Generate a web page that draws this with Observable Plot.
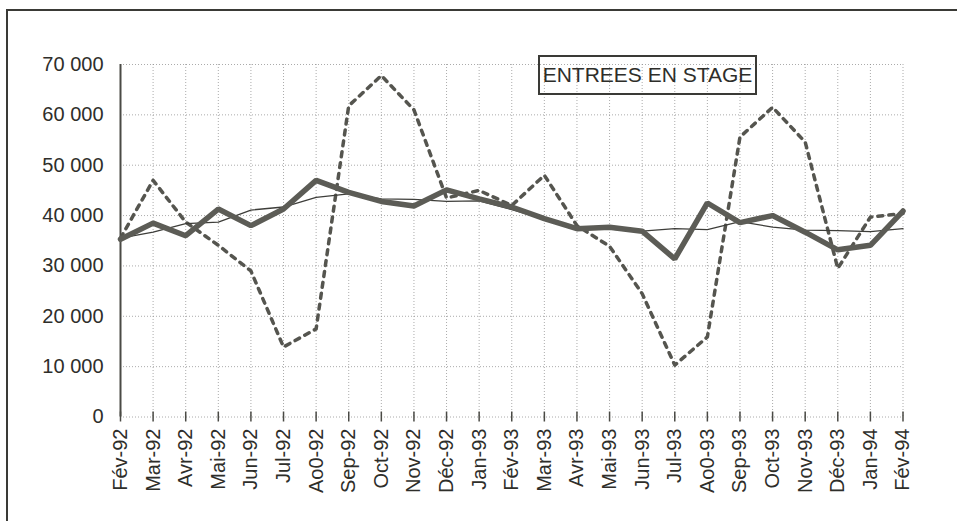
<!DOCTYPE html>
<html>
<head>
<meta charset="utf-8">
<script src="https://cdn.jsdelivr.net/npm/d3@7"></script>
<script src="https://cdn.jsdelivr.net/npm/@observablehq/plot@0.6"></script>
<style>
  html, body { margin: 0; padding: 0; background: #fff; }
  #wrap { position: relative; width: 957px; height: 521px; overflow: hidden; }
  #frame { position: absolute; left: 6px; top: 9px; width: 1000px; height: 600px;
           border-left: 2px solid #3a3a36; border-top: 2px solid #3a3a36; }
  #legend { position: absolute; left: 538px; top: 55px; width: 215px; height: 36px;
            border: 2px solid #3a3a36; font: 21px "Liberation Sans", Arial, sans-serif;
            color: #2e2e2a; display: flex; align-items: center; justify-content: center; box-sizing: content-box; }
  svg { position: absolute; left: 0; top: 0; }
</style>
</head>
<body>
<div id="wrap">
  <div id="frame"></div>
</div>
<script>
const months = ["Fév-92","Mar-92","Avr-92","Mai-92","Jun-92","Jul-92","Ao0-92","Sep-92","Oct-92","Nov-92","Déc-92",
  "Jan-93","Fév-93","Mar-93","Avr-93","Mai-93","Jun-93","Jul-93","Ao0-93","Sep-93","Oct-93","Nov-93","Déc-93",
  "Jan-94","Fév-94"];
const brutes = [35500,47000,38700,34100,29000,13900,17500,61800,67800,61000,43500,
  45000,42000,48000,38000,33900,24500,10300,15900,55600,61500,54600,29500,39700,40400];
const cvs = [35300,38500,36000,41300,38000,41300,47000,44600,42800,41900,45100,
  43300,41700,39400,37400,37700,36900,31400,42500,38600,40000,36700,33200,34100,40900];
const tendance = [35500,36700,38400,38700,41100,41700,43600,44300,43300,43200,42800,
  42900,41200,39300,37600,37300,36900,37400,37200,38800,37700,37100,37000,36800,37400];
const yTicks = [0,10000,20000,30000,40000,50000,60000,70000];
const title = "ENTREES EN STAGE";

const fmt = d3.formatLocale({decimal: ",", thousands: " ", grouping: [3], currency: ["", ""]}).format(",d");
const rows = (vals) => months.map((m, i) => ({m, v: vals[i]}));
const ink = "#4a4a45";

const chart = Plot.plot({
  width: 957,
  height: 521,
  marginLeft: 120,
  marginRight: 55,
  marginTop: 64,
  marginBottom: 105,
  style: {fontFamily: "'Liberation Sans', Arial, sans-serif", fontSize: "20px", color: "#2e2e2a", background: "transparent"},
  x: {type: "point", domain: months, padding: 0, round: false, range: [120, 902.5]},
  y: {domain: [0, 70000], range: [416.5, 64]},
  marks: [
    Plot.gridY(yTicks, {stroke: "#888", strokeOpacity: 0.7, strokeDasharray: "1,2"}),
    Plot.gridX(months, {stroke: "#888", strokeOpacity: 0.7, strokeDasharray: "1,2"}),
    Plot.axisY(yTicks, {tickSize: 0, tickPadding: 17, tickFormat: fmt, fill: "#2e2e2a", fontSize: 20, label: null}),
    Plot.axisX(months, {tickSize: 0, tickPadding: 12, tickRotate: -90, fill: "#2e2e2a", fontSize: 20, label: null}),
    Plot.ruleY(yTicks, {y: d => d, x1: months[0], x2: months[0], insetLeft: -5, insetRight: -5, stroke: ink, strokeWidth: 1.5}),
    Plot.ruleX(months, {x: d => d, y1: 0, y2: 0, insetTop: -5, insetBottom: -5, stroke: ink, strokeWidth: 1.5}),
    Plot.ruleX([months[0]], {y1: 0, y2: 70000, stroke: ink, strokeWidth: 2}),
    Plot.ruleY([0], {x1: months[0], x2: months[months.length - 1], stroke: ink, strokeWidth: 2}),
    Plot.line(rows(brutes), {x: "m", y: "v", stroke: "#55554f", strokeWidth: 3.5, strokeDasharray: "5,6"}),
    Plot.line(rows(tendance), {x: "m", y: "v", stroke: "#3e3e3a", strokeWidth: 1.3}),
    Plot.line(rows(cvs), {x: "m", y: "v", stroke: "#5c5c56", strokeWidth: 5.5, strokeLinejoin: "miter"})
  ]
});
const wrap = document.getElementById("wrap");
wrap.appendChild(chart);
const lg = document.createElement("div");
lg.id = "legend";
lg.textContent = title;
wrap.appendChild(lg);
</script>
</body>
</html>
